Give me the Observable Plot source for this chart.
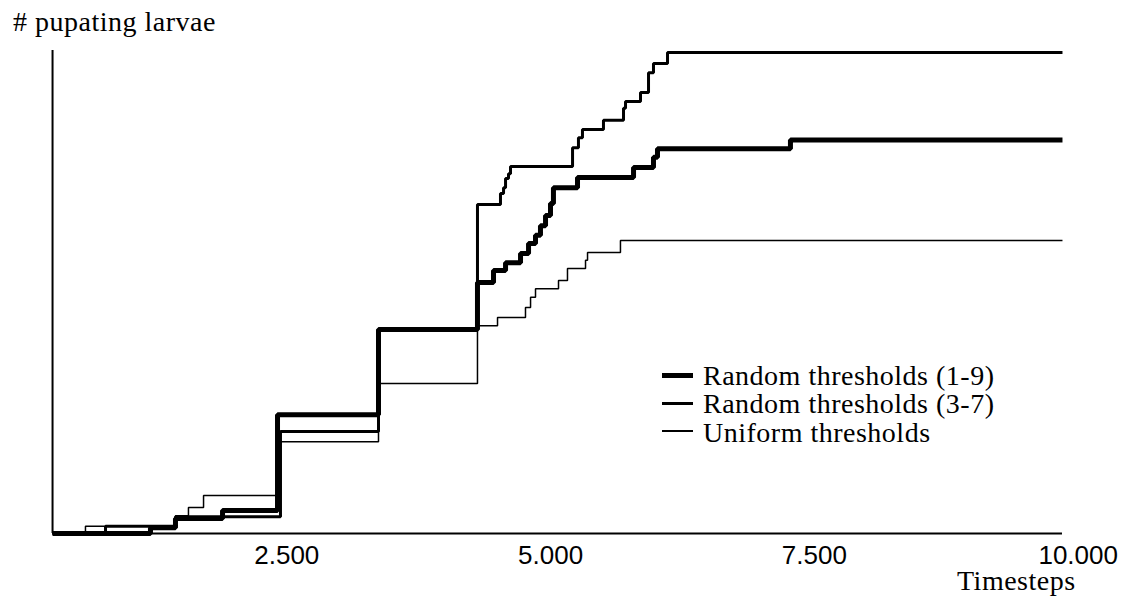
<!DOCTYPE html>
<html><head><meta charset="utf-8">
<script src="https://cdn.jsdelivr.net/npm/d3@7"></script>
<script src="https://cdn.jsdelivr.net/npm/@observablehq/plot@0.6"></script>
<style>
body{margin:0;background:#fff;}
#wrap{position:relative;width:1131px;height:610px;font-family:"Liberation Serif","Times New Roman",serif;color:#000;}
#wrap svg{position:absolute;left:0;top:0;}
.t{position:absolute;font-size:28px;line-height:28px;letter-spacing:0.5px;white-space:nowrap;}
.sw{position:absolute;left:662px;width:31px;background:#000;}
</style></head><body><div id="wrap"></div>
<script>
// x tick values and labels
const xTicks = [2500, 5000, 7500, 10000];
const yTitle = "# pupating larvae";
const xTitle = "Timesteps";
const seriesNames = ["Random thresholds (1-9)", "Random thresholds (3-7)", "Uniform thresholds"];
const seriesWidths = [5, 3, 1.5];

// Random thresholds (1-9)
const tA = [280,1208,1445,1891,2412,3369,4307,4459,4573,4715,4791,4857,4904,4952,4999,5027,5255,5786,5975,6013,7273,9851];
const vA = [0,1.2,3.1,4.8,24.7,42.4,52.2,54.7,56.3,58.2,60.3,62.0,64.0,66.1,68.6,71.9,74.0,76.1,78.2,80.0,81.8,81.8];
// Random thresholds (3-7)
const tB = [280,782,1445,2440,3369,4307,4525,4554,4573,4601,4620,5208,5264,5302,5501,5691,5710,5852,5928,5975,6108,9851];
const vB = [0,1.5,3.5,21.2,42.4,68.4,70.7,71.9,73.8,74.8,76.3,80.2,82.3,84.0,85.9,88.4,89.8,91.7,95.8,97.7,100,100];
// Uniform thresholds
const tC = [280,592,1445,1568,1711,2440,3369,4307,4497,4762,4810,4857,5075,5160,5331,5350,5662,9851];
const vC = [0,1.5,3.7,5.4,7.9,19.1,31.2,43.2,44.9,47.0,49.1,50.9,52.6,55.1,56.8,58.4,60.9,60.9];

const toRows = (ts, vs) => ts.map((t, i) => ({t, v: vs[i]}));
const series = [toRows(tA, vA), toRows(tB, vB), toRows(tC, vC)];
const allT = [...tA, ...tB, ...tC];
const tStart = d3.min(allT), tEnd = d3.max(allT);
const fmt = d => d3.format(",")(d).replace(/,/g, ".");

const plot = Plot.plot({
  width: 1131, height: 610,
  marginLeft: 52, marginRight: 69, marginTop: 50, marginBottom: 77,
  style: {background: "white", color: "black", overflow: "visible"},
  x: {domain: [0, 10000], range: [22.5, 1077.7]},
  y: {domain: [0, 100], range: [533, 52], axis: null},
  marks: [
    Plot.ruleX([tStart], {stroke: "#000", strokeWidth: 2}),
    Plot.ruleY([{y: 0, x1: tStart, x2: tEnd}], {y: "y", x1: "x1", x2: "x2", stroke: "#000", strokeWidth: 2}),
    ...series.map((d, i) => Plot.line(d, {x: "t", y: "v", curve: "step-after", stroke: "#000",
      strokeWidth: seriesWidths[i], strokeLinejoin: "miter", strokeLinecap: "butt"})),
    Plot.axisX(xTicks, {anchor: "bottom", tickSize: 0, tickPadding: 12, fontSize: 26,
      fontFamily: "Liberation Sans", tickFormat: fmt, label: null})
  ]
});
const wrap = document.getElementById("wrap");
wrap.appendChild(plot);

function addText(txt, left, baseline) {
  const el = document.createElement("div");
  el.className = "t";
  el.textContent = txt;
  el.style.left = left + "px";
  el.style.top = (baseline - 23.5) + "px";
  wrap.appendChild(el);
}
addText(yTitle, 13, 31);
addText(xTitle, 957, 590);
const rowBase = [385, 413, 442];
const swCenter = [375.5, 403.5, 431];
seriesNames.forEach((n, i) => {
  const sw = document.createElement("div");
  sw.className = "sw";
  sw.style.height = seriesWidths[i] + "px";
  sw.style.top = (swCenter[i] - seriesWidths[i] / 2) + "px";
  wrap.appendChild(sw);
  addText(n, 703, rowBase[i]);
});
</script></body></html>
